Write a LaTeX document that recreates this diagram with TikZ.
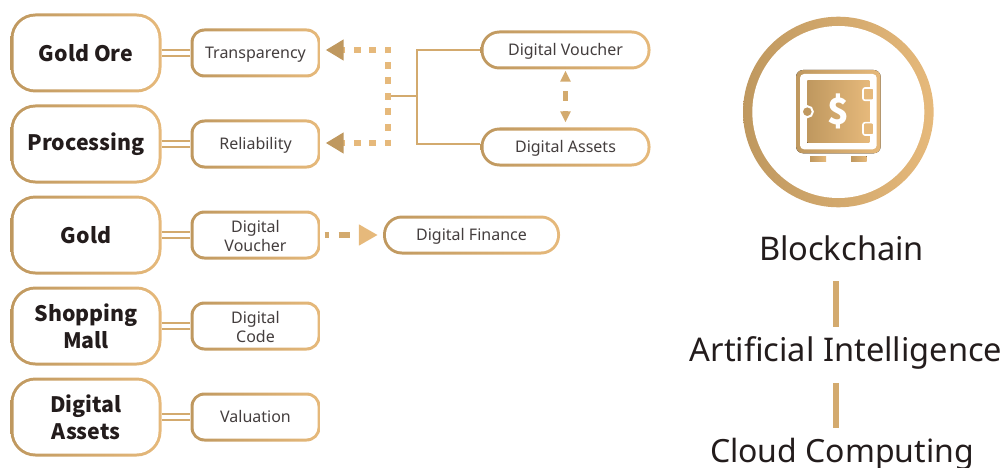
\documentclass[tikz,border=0pt]{standalone}
\usepackage{fontspec}
\setmainfont{Noto Sans}
\newfontfamily\boldkr{Noto Sans CJK KR}
\usepackage{tikz}
\usetikzlibrary{calc,arrows.meta}
\definecolor{goldA}{HTML}{BF985F}
\definecolor{goldB}{HTML}{E6B97B}
\definecolor{goldM}{HTML}{D3AA6E}
\definecolor{inkA}{HTML}{231C1C}
\definecolor{inkB}{HTML}{443E3E}
\tikzset{
  goldbox/.style={rectangle,rounded corners=#1,left color=goldA,right color=goldB,inner sep=0pt,align=center,
    path picture={\fill[white,rounded corners=#1-3pt]
      ($(path picture bounding box.south west)+(3,-3)$) rectangle ($(path picture bounding box.north east)+(-3,3)$);}},
  bigbox/.style={goldbox=25pt,minimum width=151pt,minimum height=79pt,text=inkA,font=\fontsize{21.3}{27}\selectfont\boldkr\bfseries},
  smallbox/.style={goldbox=14pt,minimum width=130pt,minimum height=49pt,text=inkB,font=\fontsize{16}{19}\selectfont},
  oneline/.style={text height=14pt,text depth=3.4pt},
  twoline/.style={text height=34pt},
  pillbox/.style={goldbox=19pt,minimum width=#1,minimum height=39pt,text=inkB,font=\fontsize{16}{19}\selectfont,oneline},
  techtext/.style={inner sep=0pt,text height=24pt,text depth=7pt,text=inkA,font=\fontsize{32.6}{40}\selectfont},
  twinlink/.style={draw=goldM,line width=1.7pt,double=white,double distance=4pt},
  bracket/.style={draw=goldM,line width=2pt},
  dashlink/.style={draw=goldB,line width=6pt,dash pattern=on 7pt off 8.5pt,dash phase=3.5pt,
    -{Triangle[length=18pt,width=20pt,color=goldA,sep=0pt]}},
  goldfill/.style={left color=goldA,right color=goldB,draw=none},
  techbar/.style={draw=goldM,line width=5.5pt},
  level distance=169.5pt
}
\begin{document}
\begin{tikzpicture}[x=1pt,y=-1pt]
\useasboundingbox (0,0) rectangle (1003,468);
% left column
\node [bigbox] (ore) at (86,53) {Gold Ore}
  child [grow=right] {node [smallbox,oneline] (t) {Transparency} edge from parent[twinlink]};
\node [bigbox] (p) at (86,144) {Processing}
  child [grow=right] {node [smallbox,oneline] (r) {Reliability} edge from parent[twinlink]};
\node [bigbox] (g) at (86,235) {Gold}
  child [grow=right] {node [smallbox,twoline] (v) {Digital\\Voucher}
    child [grow=right,level distance=216pt] {node [pillbox=177pt] (df) {Digital Finance}
      edge from parent[draw=goldM,line width=6pt,dash pattern=on 4pt off 10pt on 11pt off 10pt,
        shorten <=4pt,shorten >=5pt,-{Triangle[length=19pt,width=20pt,color=goldB,sep=0pt]}]}
    edge from parent[twinlink]
  };
\node [bigbox] (m) at (86,326) {Shopping\\Mall}
  child [grow=right] {node [smallbox,twoline] (c) {Digital\\Code} edge from parent[twinlink]};
\node [bigbox] (a) at (86,417) {Digital\\Assets}
  child [grow=right] {node [smallbox,oneline] (w) {Valuation} edge from parent[twinlink]};
% top middle
\node [pillbox=170pt] (dv) at (565.5,50) {Digital Voucher};
\node [pillbox=170pt] (da) at (565.5,147) {Digital Assets};
\coordinate (joint) at (417,96.5);
\coordinate (elbow) at (388,96.5);
\draw [bracket] (dv.west) -| (joint) |- ($(da.west)+(0,-3.5)$);
\draw [bracket] (joint) -- (elbow);
\draw [dashlink] (elbow) |- ($(t.east)+(5,-3)$);
\draw [dashlink] (elbow) |- ($(r.east)+(5,-1)$);
\draw [draw=goldM,line width=5pt,dash pattern=on 10pt off 10pt,dash phase=10pt,shorten <=1pt,shorten >=5pt,
  {Triangle[length=11pt,width=10pt,color=goldM,sep=0pt]}-{Triangle[length=11pt,width=10pt,color=goldM,sep=0pt]}]
  (dv.south) -- (da.north);
% safe
\node [goldbox=95.3pt,circle,minimum size=190.6pt,
  path picture={\fill[white] (path picture bounding box.center) circle (86pt);}] (ring) at (838.3,112) {};
\fill [goldfill,rounded corners=7pt] (796,70) rectangle (880.7,153.3);
\fill [white,rounded corners=4pt] (800,74) rectangle (876.7,149.3);
\fill [goldfill] (807.3,81) rectangle (869.3,142.7);
\foreach \ytop in {88,122.7}
  \draw [draw=white,fill=goldB,line width=1.6pt,rounded corners=2pt] (863,\ytop) rectangle (874,\ytop+12.3);
\draw [draw=white,fill=goldA,line width=2pt] (807.3,111.7) circle (5.5pt);
\fill [goldfill] (810,156) rectangle (826,161);
\fill [goldfill] (851,156) rectangle (866.7,161);
\node [text=white,inner sep=0pt,font=\fontsize{36}{40}\selectfont\boldkr\bfseries] (dollar) at (838.3,111.7) {\$};
% right column
\node [techtext] (bc) at (841.5,252.2) {Blockchain};
\node [techtext] (ai) at (846,353.2) {Artificial Intelligence};
\node [techtext,font=\fontsize{32}{40}\selectfont] (cc) at (842,454.2) {Cloud Computing};
\coordinate (barx) at (836,0);
\draw [techbar] ($(barx |- bc.south)+(0,13.3)$) -- ($(barx |- ai.north)+(0,-11)$);
\draw [techbar] ($(barx |- ai.south)+(0,14)$) -- ($(barx |- cc.north)+(0,-10.7)$);
\end{tikzpicture}
\end{document}
